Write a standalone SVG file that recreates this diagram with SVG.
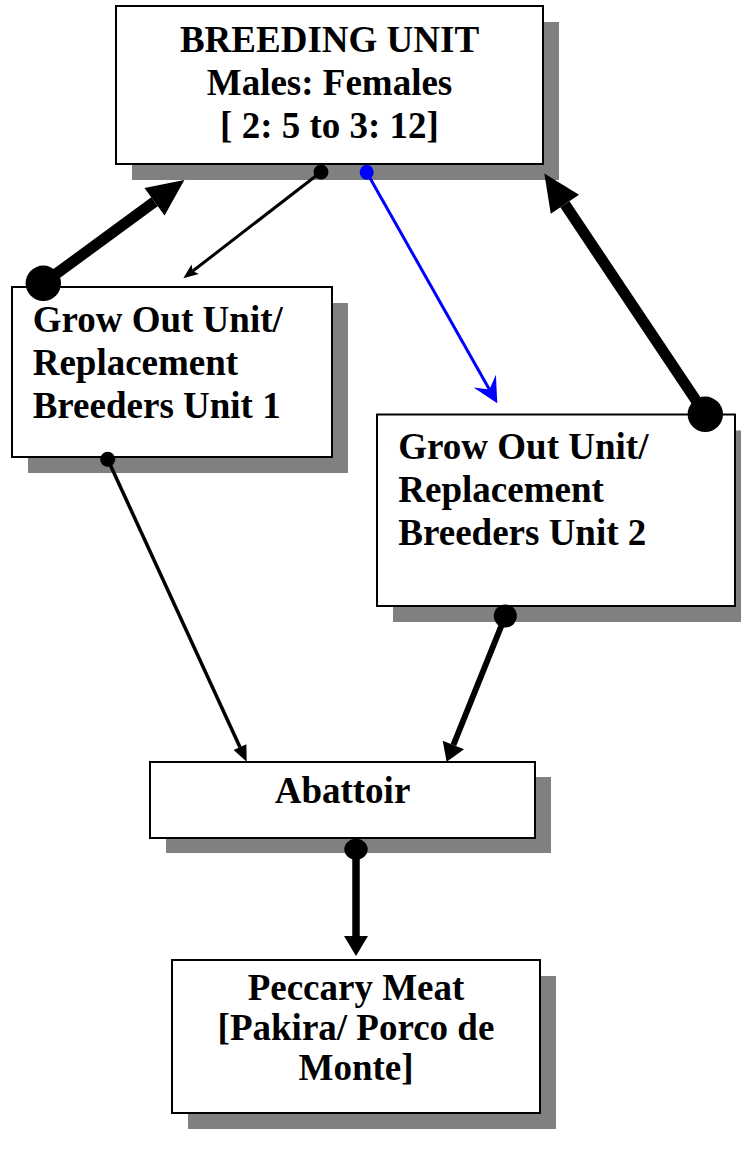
<svg xmlns="http://www.w3.org/2000/svg" width="741" height="1171" viewBox="0 0 741 1171">
  <style>
    .shadow { fill: #808080; }
    .box { fill: #ffffff; stroke: #000000; stroke-width: 2; }
    .label { font-family: "Liberation Serif", "Times New Roman", serif; font-weight: bold; font-size: 37px; fill: #000000; }
    .mid { text-anchor: middle; }
    .conn { fill: none; stroke: #000000; stroke-linecap: butt; }
    .blue { fill: none; stroke: #0000ff; stroke-linecap: butt; }
    .dot { fill: #000000; }
    .bdot { fill: #0000ff; }
  </style>
  <defs>
    <marker id="headThick" markerUnits="userSpaceOnUse" markerWidth="37" markerHeight="34" refX="0" refY="17" orient="auto" overflow="visible">
      <path d="M0,0 L37,17 L0,34 Z" fill="#000000"/>
    </marker>
    <marker id="headThin" markerUnits="userSpaceOnUse" markerWidth="15" markerHeight="12" refX="3" refY="6" orient="auto" overflow="visible">
      <path d="M0,0 L15,6 L0,12 L3,6 Z" fill="#000000"/>
    </marker>
    <marker id="headBlue" markerUnits="userSpaceOnUse" markerWidth="26" markerHeight="26" refX="9.5" refY="12.85" orient="auto" overflow="visible">
      <path d="M0,0 L25.5,12.85 L0,25.7 L9.5,12.85 Z" fill="#0000ff"/>
    </marker>
    <marker id="headMed" markerUnits="userSpaceOnUse" markerWidth="16" markerHeight="14" refX="0" refY="7" orient="auto" overflow="visible">
      <path d="M0,0 L16,7 L0,14 Z" fill="#000000"/>
    </marker>
    <marker id="headMed2" markerUnits="userSpaceOnUse" markerWidth="18" markerHeight="23" refX="0" refY="11.5" orient="auto" overflow="visible">
      <path d="M0,0 L18,11.5 L0,23 Z" fill="#000000"/>
    </marker>
    <marker id="headDown" markerUnits="userSpaceOnUse" markerWidth="20" markerHeight="24" refX="0" refY="12" orient="auto" overflow="visible">
      <path d="M0,0 L20,12 L0,24 Z" fill="#000000"/>
    </marker>
  </defs>

  <g id="node-breeding">
    <rect class="shadow" x="132" y="22" width="427" height="158"/>
    <rect class="box" x="116" y="6" width="427" height="158"/>
    <text class="label mid" x="329.5" y="52.3">BREEDING UNIT</text>
    <text class="label mid" x="329.5" y="95">Males: Females</text>
    <text class="label mid" x="329.5" y="138">[ 2: 5 to 3: 12]</text>
  </g>

  <g id="node-growout1">
    <rect class="shadow" x="28" y="303" width="320" height="170"/>
    <rect class="box" x="12" y="287" width="320" height="170"/>
    <text class="label" x="32.7" y="331.5">Grow Out Unit/</text>
    <text class="label" x="32.7" y="374.5">Replacement</text>
    <text class="label" x="32.7" y="417.5">Breeders Unit 1</text>
  </g>

  <g id="node-growout2">
    <rect class="shadow" x="393" y="430.5" width="358" height="191.5"/>
    <rect class="box" x="377" y="414.5" width="358" height="191.5"/>
    <text class="label" x="398.3" y="459.3">Grow Out Unit/</text>
    <text class="label" x="398.3" y="502.3">Replacement</text>
    <text class="label" x="398.3" y="545.3">Breeders Unit 2</text>
  </g>

  <g id="node-abattoir">
    <rect class="shadow" x="166" y="777" width="385" height="76"/>
    <rect class="box" x="150" y="762" width="385" height="76"/>
    <text class="label mid" x="342.5" y="803.3">Abattoir</text>
  </g>

  <g id="node-meat">
    <rect class="shadow" x="188" y="976" width="368" height="153"/>
    <rect class="box" x="172" y="960" width="368" height="153"/>
    <text class="label mid" x="356" y="1000">Peccary Meat</text>
    <text class="label mid" x="356" y="1040">[Pakira/ Porco de</text>
    <text class="label mid" x="356" y="1080">Monte]</text>
  </g>

  <g id="connectors">
    <line class="conn" x1="43.3" y1="283.3" x2="154.5" y2="201.8" stroke-width="11" marker-end="url(#headThick)"/>
    <circle class="dot" cx="43.3" cy="283.3" r="17.7"/>
    <line class="conn" x1="705.3" y1="414.3" x2="564.9" y2="204.3" stroke-width="11" marker-end="url(#headThick)"/>
    <circle class="dot" cx="705.3" cy="414.3" r="17.7"/>
    <line class="conn" x1="321" y1="172" x2="192.8" y2="271" stroke-width="3" marker-end="url(#headThin)"/>
    <circle class="dot" cx="321" cy="172" r="7.5"/>
    <line class="blue" x1="366.7" y1="172.3" x2="489.4" y2="389.4" stroke-width="3" marker-end="url(#headBlue)"/>
    <ellipse class="bdot" cx="366.7" cy="172.3" rx="7" ry="7.5"/>
    <line class="conn" x1="107.7" y1="459.3" x2="240" y2="747.2" stroke-width="3.5" marker-end="url(#headMed)"/>
    <circle class="dot" cx="107.7" cy="459.3" r="7.5"/>
    <line class="conn" x1="505.3" y1="616" x2="453.4" y2="745" stroke-width="6" marker-end="url(#headMed2)"/>
    <circle class="dot" cx="505.3" cy="616" r="11.5"/>
    <line class="conn" x1="356" y1="849.3" x2="356" y2="936" stroke-width="7.5" marker-end="url(#headDown)"/>
    <ellipse class="dot" cx="356" cy="849.3" rx="11.7" ry="10.5"/>
  </g>
</svg>
